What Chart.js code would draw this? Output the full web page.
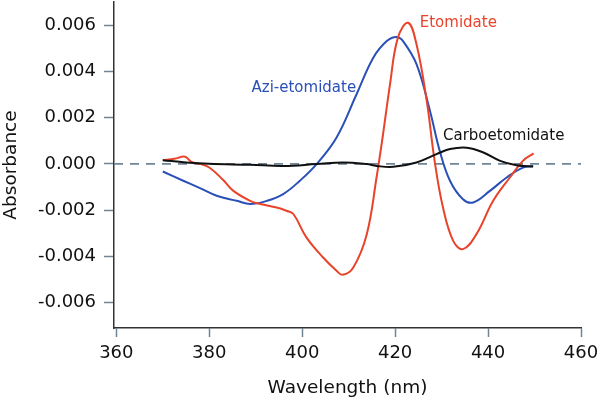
<!DOCTYPE html>
<html>
<head>
<meta charset="utf-8">
<script src="https://cdn.jsdelivr.net/npm/chart.js@4/dist/chart.umd.min.js"></script>
<style>
  html, body { margin: 0; padding: 0; background: #fff; }
  canvas { display: block; }
</style>
</head>
<body>
<canvas id="spectra" width="600" height="402"></canvas>
<script>
// wavelength (nm) / absorbance
const etoWl  = [370, 372.5, 374.8, 376.2, 378, 380, 383, 385.2, 388.8, 391, 394.5, 396.6, 398.1, 400.9, 404.5, 407.4, 408.7, 411, 413.9, 416, 417.4, 418.9, 420.6, 422.8, 424.6, 426.8, 428.5, 430.3, 432.5, 434.6, 437.5, 441.1, 444.7, 447.5, 449.8];
const etoAbs = [0.00016, 0.00022, 0.00031, 0.00008, 0.0, -0.00016, -0.0007, -0.00117, -0.0016, -0.00174, -0.00189, -0.00203, -0.00217, -0.00318, -0.00405, -0.00462, -0.0048, -0.00448, -0.00304, -0.00059, 0.00128, 0.00344, 0.00546, 0.0061, 0.00517, 0.00272, 0.00013, -0.00189, -0.00333, -0.00369, -0.00304, -0.0016, -0.00059, 0.00013, 0.00045];

const aziWl  = [370, 374.4, 378, 381.6, 385.9, 388.8, 392.4, 395.9, 399.5, 403.1, 407.4, 411.7, 415.3, 418.2, 420.3, 421.7, 424.6, 427.5, 429.6, 431.8, 434.6, 436.8, 440.4, 444, 447.5, 449.7];
const aziAbs = [-0.00033, -0.00073, -0.00105, -0.00138, -0.0016, -0.00174, -0.0016, -0.00131, -0.00073, -0.00001, 0.00114, 0.00301, 0.00459, 0.00531, 0.00549, 0.00531, 0.00431, 0.00229, 0.00056, -0.00073, -0.00153, -0.00167, -0.00117, -0.00059, -0.00016, -0.00009];

const carboWl  = [370, 375, 380, 388.8, 395.9, 403.1, 408.8, 413.9, 416, 419.6, 424.6, 428.9, 431.8, 435.4, 439, 442.6, 446.1, 449.7];
const carboAbs = [0.00016, 0.00006, 0.0, -0.00004, -0.00009, -0.00001, 0.00006, -0.00001, -0.00009, -0.00013, 0.00006, 0.00042, 0.00064, 0.0007, 0.00049, 0.00013, -0.00006, -0.00012];

const xTicks = [360, 380, 400, 420, 440, 460];
const yTicks = [-0.006, -0.004, -0.002, 0, 0.002, 0.004, 0.006];

// curve labels, anchored in data units (left edge, middle)
const curveLabels = [
    { text: 'Etomidate', x: 425.3, y: 0.0061, color: '#e8432b' },
    { text: 'Azi-etomidate', x: 389.1, y: 0.00328, color: '#2a50b8' },
    { text: 'Carboetomidate', x: 430.3, y: 0.00121, color: '#111111' }
];

const xMin = 359.5, xMax = 460;
const yMin = -0.0071, yMax = 0.007;

const pts = (xs, ys) => xs.map((x, i) => ({ x: x, y: ys[i] }));

const labelPlugin = {
    id: 'curveLabels',
    afterDatasetsDraw(chart) {
        const ctx = chart.ctx;
        const sx = chart.scales.x, sy = chart.scales.y;
        ctx.save();
        ctx.font = '15px "DejaVu Sans"';
        ctx.textAlign = 'left';
        ctx.textBaseline = 'middle';
        curveLabels.forEach(l => {
            ctx.fillStyle = l.color;
            ctx.fillText(l.text, sx.getPixelForValue(l.x), sy.getPixelForValue(l.y));
        });
        ctx.restore();
    }
};

new Chart(document.getElementById('spectra'), {
    type: 'line',
    data: {
        datasets: [
            {
                label: 'zero',
                data: pts([xMin, xMax], [0, 0]),
                borderColor: '#6f8494',
                borderWidth: 1.6,
                borderDash: [9, 7],
                pointRadius: 0,
                order: 5
            },
            {
                label: 'Azi-etomidate',
                data: pts(aziWl, aziAbs),
                borderColor: '#2a50b8',
                borderWidth: 2,
                pointRadius: 0,
                tension: 0.4,
                order: 3
            },
            {
                label: 'Carboetomidate',
                data: pts(carboWl, carboAbs),
                borderColor: '#111111',
                borderWidth: 2,
                pointRadius: 0,
                tension: 0.4,
                order: 1
            },
            {
                label: 'Etomidate',
                data: pts(etoWl, etoAbs),
                borderColor: '#e8432b',
                borderWidth: 2,
                pointRadius: 0,
                tension: 0.4,
                order: 2
            }
        ]
    },
    options: {
        responsive: false,
        animation: false,
        layout: { padding: { top: 2, right: 19, bottom: 0, left: 0 } },
        plugins: {
            legend: { display: false },
            tooltip: { enabled: false }
        },
        scales: {
            x: {
                type: 'linear',
                min: xMin,
                max: xMax,
                afterBuildTicks: s => { s.ticks = xTicks.map(v => ({ value: v })); },
                afterFit: s => {
                    s.height = 74;
                    s.paddingLeft = 0;
                    s.paddingRight = 0;
                },
                border: { display: true, color: '#333333', width: 1.5 },
                grid: { drawOnChartArea: false, tickLength: 9, tickColor: '#6f8494', tickWidth: 1.5 },
                ticks: {
                    color: '#111111',
                    font: { family: '"DejaVu Sans"', size: 18 },
                    padding: 6,
                    maxRotation: 0,
                    autoSkip: false
                },
                title: {
                    display: true,
                    text: 'Wavelength (nm)',
                    color: '#111111',
                    font: { family: '"DejaVu Sans"', size: 18.5 },
                    padding: { top: 0, bottom: 3 }
                }
            },
            y: {
                type: 'linear',
                min: yMin,
                max: yMax,
                afterBuildTicks: s => { s.ticks = yTicks.map(v => ({ value: v })); },
                afterFit: s => {
                    s.width = 114;
                    s.paddingTop = 0;
                    s.paddingBottom = 0;
                },
                border: { display: true, color: '#333333', width: 1.5 },
                grid: { drawOnChartArea: false, tickLength: 10, tickColor: '#6f8494', tickWidth: 1.5 },
                ticks: {
                    color: '#111111',
                    font: { family: '"DejaVu Sans"', size: 18 },
                    padding: 8,
                    autoSkip: false,
                    callback: v => v.toFixed(3)
                },
                title: {
                    display: true,
                    text: 'Absorbance',
                    color: '#111111',
                    font: { family: '"DejaVu Sans"', size: 18.5 },
                    padding: { top: 0, bottom: 0 }
                }
            }
        }
    },
    plugins: [labelPlugin]
});
</script>
</body>
</html>
